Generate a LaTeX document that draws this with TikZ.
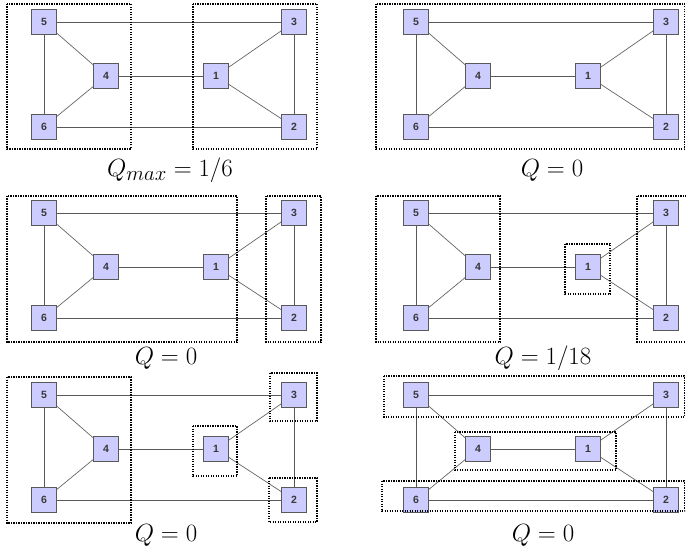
\documentclass[tikz,border=0pt]{standalone}
\usepackage{fontspec}
\newfontfamily\nodefont{Liberation Sans}
\definecolor{vfill}{RGB}{204,204,255}
\newcommand\drawgraph[3]{%
  \begin{scope}[shift={(#1,#2)}]
    \node[vnode] (#3-5) at (44,22) {5};
    \node[vnode] (#3-3) at (294,22) {3};
    \node[vnode] (#3-4) at (106,76) {4};
    \node[vnode] (#3-1) at (216,76) {1};
    \node[vnode] (#3-6) at (44,127) {6};
    \node[vnode] (#3-2) at (294,127) {2};
    \draw[edge] (#3-5) -- (#3-3);
    \draw[edge] (#3-6) -- (#3-2);
    \draw[edge] (#3-4) -- (#3-1);
    \draw[edge] (#3-5) -- (#3-6);
    \draw[edge] (#3-3) -- (#3-2);
    \draw[thinedge] (#3-5) -- (#3-4);
    \draw[thinedge] (#3-6) -- (#3-4);
    \draw[thinedge] (#3-1) -- (#3-3);
    \draw[thinedge] (#3-1) -- (#3-2);
  \end{scope}}
\begin{document}
\begin{tikzpicture}[x=1pt,y=-1pt,
  vnode/.style={draw=black!65, fill=vfill, minimum size=25pt, inner sep=0pt,
    line width=0.8pt, font=\nodefont\bfseries\fontsize{10.5}{11}\selectfont, text=black!78},
  edge/.style={draw=black!65, line width=0.9pt},
  thinedge/.style={draw=black!60, line width=0.7pt},
  group/.style={draw=black, line width=1.5pt, dash pattern=on 1.3pt off 1.2pt},
  qlabel/.style={anchor=base, inner sep=0pt, font=\fontsize{28}{30}\selectfont}]
\useasboundingbox[fill=white] (0,0) rectangle (686,548);

\drawgraph{0}{0}{a}
\drawgraph{372}{0}{b}
\drawgraph{0}{191}{c}
\drawgraph{372}{191}{d}
\drawgraph{0}{373}{e}
\drawgraph{372}{373}{f}

% panel 1
\draw[group] (7,4) rectangle (131,149);
\draw[group] (193,4) rectangle (317,149);
\node[qlabel] (qa) at (170,177) {$Q_{max} = 1/6$};
% panel 2
\draw[group] (376,4) rectangle (684.5,149);
\node[qlabel] (qb) at (552,177) {$Q = 0$};
% panel 3
\draw[group] (7,196) rectangle (237,342);
\draw[group] (266,196) rectangle (321,342);
\node[qlabel] (qc) at (166,364) {$Q = 0$};
% panel 4
\draw[group] (376,196) rectangle (500,342);
\draw[group] (565,244) rectangle (610,294);
\draw[group] (637,196) rectangle (692,342);
\node[qlabel] (qd) at (543,364) {$Q = 1/18$};
% panel 5
\draw[group] (7,377) rectangle (131,523);
\draw[group] (193,426) rectangle (237,476);
\draw[group] (270,373) rectangle (317,421);
\draw[group] (269,478) rectangle (317,522);
\node[qlabel] (qe) at (166,541) {$Q = 0$};
% panel 6
\draw[group] (384,376) rectangle (684.5,417);
\draw[group] (455,432) rectangle (616,470);
\draw[group] (382,481) rectangle (684.5,511);
\node[qlabel] (qf) at (543,541) {$Q = 0$};
\end{tikzpicture}
\end{document}
